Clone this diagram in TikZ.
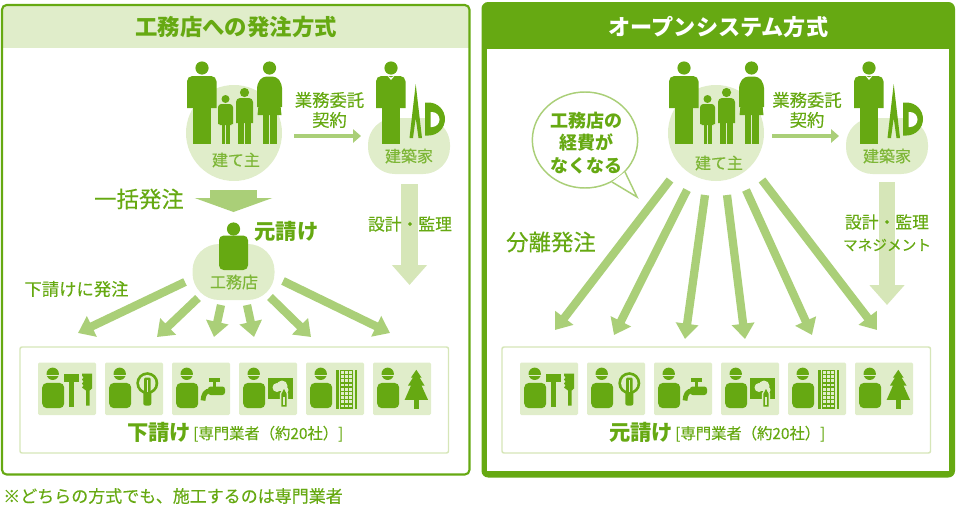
\documentclass[tikz,border=0pt]{standalone}
\usepackage{fontspec}
\setmainfont{Noto Sans CJK JP}[UprightFeatures={FakeBold=0.3}]
\usetikzlibrary{arrows.meta,shapes.geometric}
\definecolor{leaf}{HTML}{66A912}
\definecolor{paleleaf}{HTML}{E0EDCA}
\definecolor{midleaf}{HTML}{AACF78}
\definecolor{softleaf}{HTML}{D6E6B8}
\newcommand{\fsz}[2]{\fontsize{#1}{#2}\selectfont}
\tikzset{
  lab/.style={text=leaf, inner sep=0pt, align=center, font=\fsz{13}{15}},
  biglab/.style={text=leaf, inner sep=0pt, font=\fsz{16.8}{18}},
  boldlab/.style={text=leaf, inner sep=0pt, align=center, font=\fsz{13.5}{16.5}\bfseries},
  onblob/.style={text=leaf!85, inner sep=0pt, font=\fsz{12}{14}},
  fanarrow/.style={draw=midleaf, line width=6.2pt, -{Triangle[width=16.5pt,length=11.5pt]}},
  contractarrow/.style={draw=midleaf, line width=3.6pt, -{Triangle[width=10pt,length=6pt]}},
  bulkarrow/.style={draw=midleaf, line width=35pt, -{Triangle[width=58pt,length=10.5pt]}},
  sitearrow/.style={draw=softleaf, line width=12.7pt, -{Triangle[width=25.5pt,length=15pt]}},
  clientblob/.style={circle, fill=paleleaf, minimum size=72pt, inner sep=0pt},
  roundblob/.style={rectangle, fill=paleleaf, minimum width=61.5pt, minimum height=42pt, rounded corners=20pt, inner sep=0pt},
  tradeframe/.style={draw=softleaf, line width=1.1pt, rounded corners=1.5pt},
  % figures stand on their feet at the pic origin
  man/.pic={
    \fill[leaf] (0,-76) circle (6.6);
    \fill[leaf] (-15,-36) [rounded corners=4pt] -- (-15,-68) -- (14.5,-68) [sharp corners] -- (14.5,-36) -- cycle;
    \fill[leaf] (-9.3,-37) rectangle (-0.4,0);
    \fill[leaf] (0.4,-37) rectangle (9.2,0);
  },
  woman/.pic={
    \fill[leaf] (0,-76) circle (6.6);
    \fill[leaf] (-12.5,-37) [rounded corners=3pt] -- (-12.5,-60) -- (-7,-67.5) -- (7,-67.5) -- (12.5,-60) [sharp corners] -- (12.5,-37) -- (10.5,-37) -- (9.5,-52) -- (12,-29) -- (-12,-29) -- (-9.5,-52) -- (-10.5,-37) -- cycle;
    \fill[leaf] (-7,-30) rectangle (-0.5,0);
    \fill[leaf] (0.5,-30) rectangle (7,0);
  },
  girl/.pic={
    \fill[leaf] (0,-45) circle (4);
    \fill[leaf] (-7.5,-20) [rounded corners=2.5pt] -- (-7.5,-40) -- (7.5,-40) [sharp corners] -- (7.5,-20) -- (5.5,-20) -- (5.5,-30) -- (6,-19) -- (-6,-19) -- (-5.5,-30) -- (-5.5,-20) -- cycle;
    \fill[leaf] (-4,-20) rectangle (-0.5,0);
    \fill[leaf] (0.5,-20) rectangle (4,0);
  },
  boy/.pic={
    \fill[leaf] (0,-51.5) circle (4.6);
    \fill[leaf] (-8.5,-21) [rounded corners=3pt] -- (-8.5,-46) -- (8.5,-46) [sharp corners] -- (8.5,-21) -- cycle;
    \fill[leaf] (-6.3,-22) rectangle (-0.5,0);
    \fill[leaf] (0.5,-22) rectangle (6.3,0);
  },
  architect/.pic={
    \pic at (0,0) {man};
    \fill[white] (-3.5,-68.2) -- (0,-64) -- (3.5,-68.2) -- (0,-66.5) -- cycle;
    % compass
    \fill[leaf] (24.7,-60) -- (31,-6) -- (27.5,-6) -- (24.7,-26) -- (22,-6) -- (18.5,-6) -- cycle;
    % protractor
    \fill[leaf] (34,-41.5) -- (37.5,-41.5) arc (-90:90:16.5) -- (34,-8.5) -- cycle;
    \fill[white] (39.5,-32) -- (41,-32) arc (-90:90:7.5) -- (39.5,-17) -- cycle;
  },
  boss/.pic={
    \fill[leaf] (0,-41) circle (6.6);
    \fill[leaf, rounded corners=3.5pt] (-14.5,0) rectangle (14.5,-34.5);
  },
  worker/.pic={
    \fill[leaf] (14.7,11.3) circle (6.2);
    \fill[paleleaf] (8,12.3) rectangle (21.5,13.5);
    \fill[leaf, rounded corners=3.5pt] (4.2,45.7) rectangle (26.2,20.4);
  },
  hammersaw/.pic={
    \fill[leaf] (25.7,11.3) rectangle (41.3,19);
    \fill[leaf] (31.3,19) rectangle (35.7,44);
    \fill[leaf] (54,11) -- (54,26) -- (51.7,28) -- (51.7,43) -- (48,43) -- (48,28) -- (44,25) -- (45.5,23) -- (44,21) -- (45.5,19) -- (44,17) -- (45.5,15) -- (44,13) -- (44,11) -- cycle;
  },
  bulb/.pic={
    \fill[leaf] (42.3,20.7) circle (11);
    \fill[paleleaf] (42.3,20.7) circle (8.2);
    \fill[leaf, rounded corners=1.5pt] (38.3,43) rectangle (46.3,29);
    \fill[leaf, rounded corners=1pt] (39,29.5) rectangle (45.6,15);
    \fill[paleleaf] (41.5,17.5) rectangle (43.1,29);
  },
  faucet/.pic={
    \fill[leaf] (36.5,15.5) rectangle (47.5,19.5);
    \fill[leaf] (40.5,19.5) rectangle (44,25);
    \fill[leaf, rounded corners=2pt] (36,24) rectangle (53,32.5);
    \draw[leaf, line width=3.6pt] (39,28) .. controls (33,28.5) and (31.5,32) .. (31,38);
  },
  canvas/.pic={
    \fill[leaf] (29.3,15) rectangle (54.3,36.3);
    \fill[paleleaf] (38,25) circle (4.5);
    \fill[paleleaf] (43,23.5) circle (5.5);
    \fill[paleleaf] (46,27.5) circle (3.5);
    \fill[paleleaf] (45,24.6) -- (40.9,31) -- (40.9,45.5) -- (49.1,45.5) -- (49.1,31) -- cycle;
    \fill[leaf] (45,26.5) -- (42.3,31.5) -- (42.3,44) -- (47.7,44) -- (47.7,31.5) -- cycle;
    \fill[paleleaf] (44.2,34) rectangle (45.8,42.5);
  },
  panel/.pic={
    \fill[leaf] (30,7.3) rectangle (33,46.3);
    \fill[leaf] (48.6,7.3) rectangle (51.4,46.3);
    \fill[leaf] (34.4,7.3) rectangle (47.4,46.3);
    \foreach \cx in {0,...,2}
      \foreach \cy in {0,...,8}
        \fill[paleleaf] ({35.3+4*\cx},{8.4+4.2*\cy}) rectangle ({38+4*\cx},{11.2+4.2*\cy});
  },
  pine/.pic={
    \fill[leaf] (43.3,7.3) -- (48.5,15) -- (46.5,15) -- (51.5,23) -- (48.5,23) -- (55,37.3) -- (31.7,37.3) -- (38,23) -- (35,23) -- (40,15) -- (38,15) -- cycle;
    \fill[leaf] (40.8,37) rectangle (45.6,46.3);
  }
}
% one row of six trade tiles, left edge at #1
\newcommand{\tilerow}[1]{
  \foreach \i in {0,...,5} {
    \fill[paleleaf, rounded corners=1pt] ({#1+67*\i},362.5) rectangle ({#1+58+67*\i},415);
    \pic at ({#1+67*\i},362.5) {worker};
  }
  \pic at (#1,362.5) {hammersaw};
  \pic at ({#1+67},362.5) {bulb};
  \pic at ({#1+134},362.5) {faucet};
  \pic at ({#1+201},362.5) {canvas};
  \pic at ({#1+268},362.5) {panel};
  \pic at ({#1+335},362.5) {pine};
}
\begin{document}
\begin{tikzpicture}[x=0.75pt, y=-0.75pt]
  \useasboundingbox (0,0) rectangle (956,507);
  % Left panel
  \begin{scope}
    \clip[rounded corners=3.5pt] (2,5) rectangle (469.5,474.5);
    \fill[paleleaf] (2,5) rectangle (469.5,48);
  \end{scope}
  \draw[leaf, line width=1.6pt, rounded corners=3.5pt] (2,5) rectangle (469.5,474.5);
  \node[boldlab, font=\fsz{16.8}{18}\bfseries] (titleA) at (236,27) {工務店への発注方式};
  % Right panel
  \fill[leaf, rounded corners=5pt] (481.5,2) rectangle (955,477.5);
  \fill[white] (487,49) rectangle (949,471);
  \node[boldlab, text=white, font=\fsz{16.6}{18}\bfseries] (titleB) at (718.5,27) {オープンシステム方式};

  % Left: client and architect
  \node[clientblob] (clientA) at (234,133) {};
  \pic at (202,144) {man};
  \pic at (225.5,144) {girl};
  \pic at (244.5,144) {boy};
  \pic at (269.5,144) {woman};
  \node[onblob] (clientAtxt) at (236,160) {建て主};
  \node[roundblob] (archA) at (409,146) {};
  \pic at (391,144) {architect};
  \node[onblob] (archAtxt) at (409,156) {建築家};
  \node[lab] (contractA) at (329.5,110) {業務委託\\契約};
  \coordinate (contractAs) at (294,136);
  \coordinate (contractAt) at (361,136);
  \draw[contractarrow] (contractAs) -- (contractAt);

  % Left: bulk order
  \coordinate (bulkAs) at (233.5,190);
  \coordinate (bulkAt) at (233.5,212);
  \draw[bulkarrow] (bulkAs) -- (bulkAt);
  \node[biglab] (bulkAtxt) at (139,199) {一括発注};
  \node[roundblob] (builderA) at (233.5,272) {};
  \pic at (233.5,270) {boss};
  \node[boldlab, font=\fsz{16}{18}\bfseries] (bossA) at (286.5,231) {元請け};
  \node[onblob] (builderAtxt) at (234,282) {工務店};
  \node[lab] (orderA) at (76.5,289) {下請けに発注};

  % Left: design and supervision
  \coordinate (siteAs) at (409.5,184);
  \coordinate (siteAt) at (409.5,285);
  \draw[sitearrow] (siteAs) -- (siteAt);
  \node[lab, font=\fsz{12.6}{15}] (siteAtxt) at (410,224) {設計・監理};

  % Left: fan to the trades
  \coordinate (fromA1) at (185,282); \coordinate (toA1) at (78,333);
  \coordinate (fromA2) at (198,298); \coordinate (toA2) at (157,337);
  \coordinate (fromA3) at (221,305); \coordinate (toA3) at (214,337);
  \coordinate (fromA4) at (247,305); \coordinate (toA4) at (254,337);
  \coordinate (fromA5) at (270,297); \coordinate (toA5) at (311,337);
  \coordinate (fromA6) at (283,281); \coordinate (toA6) at (390,333);
  \foreach \i in {1,...,6}
    \draw[fanarrow] (fromA\i) -- (toA\i);
  \draw[tradeframe] (20,347) rectangle (448.5,453);
  \tilerow{38}
  \node[boldlab, anchor=base west, font=\fsz{16}{18}\bfseries] (tradeAhead) at (127,440) {下請け};
  \node[lab, anchor=base west, font=\fsz{11.5}{14}] (tradeAtxt) at (193,439) {[専門業者（約20社）]};

  % Right: client and architect
  \node[clientblob] (clientB) at (716,133) {};
  \pic at (684,144) {man};
  \pic at (707.5,144) {girl};
  \pic at (726.5,144) {boy};
  \pic at (751.5,144) {woman};
  \node[onblob] (clientBtxt) at (719,163) {建て主};
  \node[roundblob] (archB) at (887,146) {};
  \pic at (869,144) {architect};
  \node[onblob] (archBtxt) at (887,156) {建築家};
  \node[lab] (contractB) at (807,110) {業務委託\\契約};
  \coordinate (contractBs) at (772,136);
  \coordinate (contractBt) at (839,136);
  \draw[contractarrow] (contractBs) -- (contractBt);

  % Right: speech bubble
  \node[ellipse, draw=midleaf, line width=1.1pt, fill=white, minimum width=79pt, minimum height=72pt, inner sep=0pt] (bubble) at (585,140) {};
  \coordinate (bubbleTip) at (637,197);
  \coordinate (bubbleA) at (625,172);
  \coordinate (bubbleB) at (612,182);
  \draw[midleaf, line width=1.1pt, fill=white] (bubbleA) -- (bubbleTip) -- (bubbleB);
  \node[boldlab, font=\fsz{13.5}{16.8}\bfseries] (bubbleTxt) at (586,143) {工務店の\\経費が\\なくなる};

  % Right: separate orders
  \coordinate (siteBs) at (887,182);
  \coordinate (siteBt) at (887,305);
  \draw[sitearrow] (siteBs) -- (siteBt);
  \node[lab, font=\fsz{12.6}{15}] (siteBtxt) at (887,222) {設計・監理};
  \node[lab, font=\fsz{11}{15}] (siteBtxt2) at (887,245) {マネジメント};
  \node[biglab] (splitBtxt) at (551,242) {分離発注};
  \coordinate (fromB1) at (670,180); \coordinate (toB1) at (555,330);
  \coordinate (fromB2) at (687,190); \coordinate (toB2) at (614,335);
  \coordinate (fromB3) at (705,195); \coordinate (toB3) at (685,339);
  \coordinate (fromB4) at (727,195); \coordinate (toB4) at (745,339);
  \coordinate (fromB5) at (746,190); \coordinate (toB5) at (812,335);
  \coordinate (fromB6) at (762,180); \coordinate (toB6) at (877,330);
  \foreach \i in {1,...,6}
    \draw[fanarrow] (fromB\i) -- (toB\i);
  \draw[tradeframe] (502,347) rectangle (930.5,453);
  \tilerow{520}
  \node[boldlab, anchor=base west, font=\fsz{16}{18}\bfseries] (tradeBhead) at (609,440) {元請け};
  \node[lab, anchor=base west, font=\fsz{11.5}{14}] (tradeBtxt) at (675,439) {[専門業者（約20社）]};

  % Footnote
  \node[lab, anchor=west, font=\fsz{12.75}{14}] (footnote) at (3,496) {※どちらの方式でも、施工するのは専門業者};
\end{tikzpicture}
\end{document}
